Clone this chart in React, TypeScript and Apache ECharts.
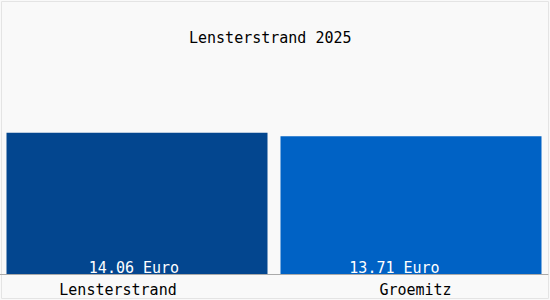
import React, { useEffect, useRef } from "react";
import * as echarts from "echarts";

const categories = ["Lensterstrand", "Groemitz"];
const values = [14.06, 13.71];
const valueLabels = ["14.06 Euro", "13.71 Euro"];
const barColors = ["#03468f", "#0062c5"];
const titleText = "Lensterstrand 2025";

const FONT = "'DejaVu Sans Mono', monospace";

export default function App() {
  const ref = useRef<HTMLDivElement>(null);
  useEffect(() => {
    document.body.style.margin = "0";
    const chart = echarts.init(ref.current!, null, { renderer: "svg" });
    const labelOffsets = [[-3, 1], [-16.5, 1]];
    chart.setOption({
      animation: false,
      backgroundColor: "#f9f9f9",
      title: {
        text: titleText,
        left: 189,
        top: 30,
        padding: 0,
        textStyle: { fontFamily: FONT, fontSize: 15, fontWeight: "normal", color: "#000" },
      },
      grid: { left: 0, right: 2, top: 73, bottom: 26 },
      xAxis: {
        type: "category",
        data: categories,
        axisLine: { show: true, lineStyle: { color: "#aaaaaa", width: 1 } },
        axisTick: { show: false },
        axisLabel: {
          margin: 8,
          fontFamily: FONT,
          fontSize: 15,
          color: "#000",
          formatter: (v: string) => (v === categories[0] ? `{a|${v}}` : `{b|${v}}`),
          rich: {
            a: { fontFamily: FONT, fontSize: 15, color: "#000", padding: [0, 38, 0, 0] },
            b: { fontFamily: FONT, fontSize: 15, color: "#000", padding: [0, 0, 0, 9] },
          },
        },
      },
      yAxis: { type: "value", min: 0, max: 20, show: false, splitLine: { show: false } },
      series: [
        {
          type: "bar",
          barWidth: 261,
          data: values.map((v, i) => ({
            value: v,
            itemStyle: { color: barColors[i] },
            label: {
              show: true,
              position: "insideBottom",
              distance: 0,
              offset: labelOffsets[i],
              formatter: valueLabels[i],
              fontFamily: FONT,
              fontSize: 15,
              color: "#ffffff",
            },
          })),
        },
      ],
      graphic: [
        {
          type: "rect",
          shape: { x: 1.5, y: 1.5, width: 547, height: 297 },
          style: { fill: "none", stroke: "#e4e4e4", lineWidth: 1 },
          silent: true,
        },
      ],
    });
    return () => chart.dispose();
  }, []);
  return <div ref={ref} style={{ width: 550, height: 300 }} />;
}
